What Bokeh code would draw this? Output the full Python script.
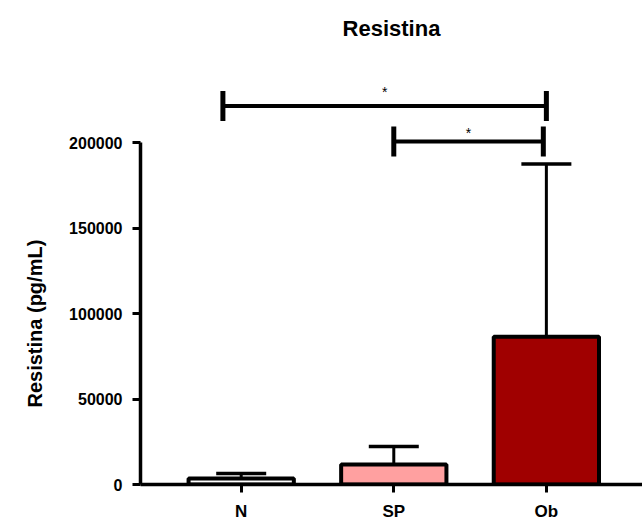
from bokeh.plotting import figure
from bokeh.models import (Range1d, LinearAxis, FixedTicker, NumeralTickFormatter,
                          ColumnDataSource, Whisker, TeeHead, Title)
from bokeh.core.properties import value
from bokeh.embed import file_html
from bokeh.resources import INLINE

# ---- data ----
groups = ["N", "SP", "Ob"]
means = [3500, 11700, 86500]
sds = [2900, 10500, 101200]
bar_colors = ["#FFFFFF", "#FFA0A0", "#A00000"]
y_ticks = [0, 50000, 100000, 150000, 200000]

# significance brackets (x in category index units)
sig_x0 = [-0.12, 1.0]
sig_x1 = [2.0, 1.98]
sig_y = [221640, 200760]
sig_label = ["*", "*"]
star_y = [229800, 206000]

FONT = "Liberation Sans"

xs = list(range(len(groups)))
upper = [m + s for m, s in zip(means, sds)]

p = figure(width=642, height=523, output_backend="svg", toolbar_location=None,
           x_range=Range1d(-0.66, 2.63), y_range=Range1d(0, 250000),
           x_axis_location=None, y_axis_location=None,
           min_border_left=140, min_border_right=0, min_border_bottom=38,
           min_border_top=0)
p.grid.visible = False
p.outline_line_color = None
p.background_fill_color = "white"
p.border_fill_color = "white"

title = Title(text="Resistina", align="center", vertical_align="top",
              text_font=FONT, text_font_size="22px", text_font_style="bold",
              text_color="black", standoff=30)
p.add_layout(title, "above")

src = ColumnDataSource(dict(x=xs, top=means, upper=upper, color=bar_colors))
p.vbar(x="x", top="top", width=0.69, fill_color="color", line_color="black",
       line_width=4, source=src)

wh = Whisker(source=src, base="x", upper="upper", lower="top",
             upper_head=TeeHead(size=50, line_width=3.5, line_color="black"),
             lower_head=None, line_width=3, line_color="black", level="glyph")
p.add_layout(wh)

# brackets
tick_half = 8770
p.segment(x0=sig_x0, y0=sig_y, x1=sig_x1, y1=sig_y, line_width=4, line_color="black")
p.segment(x0=sig_x0, y0=[y - tick_half for y in sig_y], x1=sig_x0,
          y1=[y + tick_half for y in sig_y], line_width=5, line_color="black")
p.segment(x0=sig_x1, y0=[y - tick_half for y in sig_y], x1=sig_x1,
          y1=[y + tick_half for y in sig_y], line_width=5, line_color="black")
p.text(x=[(a + b) / 2 for a, b in zip(sig_x0, sig_x1)], y=star_y, text=sig_label,
       text_align="center", text_baseline="alphabetic", text_font=value(FONT),
       text_font_size="14px", text_color="black")

# y axis
yax = LinearAxis(bounds=(0, 200000), ticker=FixedTicker(ticks=y_ticks),
                 formatter=NumeralTickFormatter(format="0"))
yax.axis_line_width = 3.5
yax.major_tick_line_width = 3
yax.major_tick_out = 8
yax.major_tick_in = 0
yax.minor_tick_line_color = None
yax.major_label_text_font = FONT
yax.major_label_text_font_style = "bold"
yax.major_label_text_font_size = "16px"
yax.major_label_text_color = "black"
yax.major_label_standoff = 10
p.add_layout(yax, "left")

ylab = Title(text="Resistina (pg/mL)", align="left", vertical_align="top",
             text_font=FONT, text_font_size="20px", text_font_style="bold",
             text_color="black", standoff=38, offset=77)
p.add_layout(ylab, "left")

# x axis
xax = LinearAxis(ticker=FixedTicker(ticks=xs),
                 major_label_overrides={i: g for i, g in zip(xs, groups)})
xax.axis_line_width = 3.5
xax.major_tick_line_width = 3
xax.major_tick_out = 8
xax.major_tick_in = 0
xax.minor_tick_line_color = None
xax.major_label_text_font = FONT
xax.major_label_text_font_style = "bold"
xax.major_label_text_font_size = "17px"
xax.major_label_text_color = "black"
xax.major_label_standoff = 9
p.add_layout(xax, "below")

open("out.html", "w").write(file_html(p, INLINE))
